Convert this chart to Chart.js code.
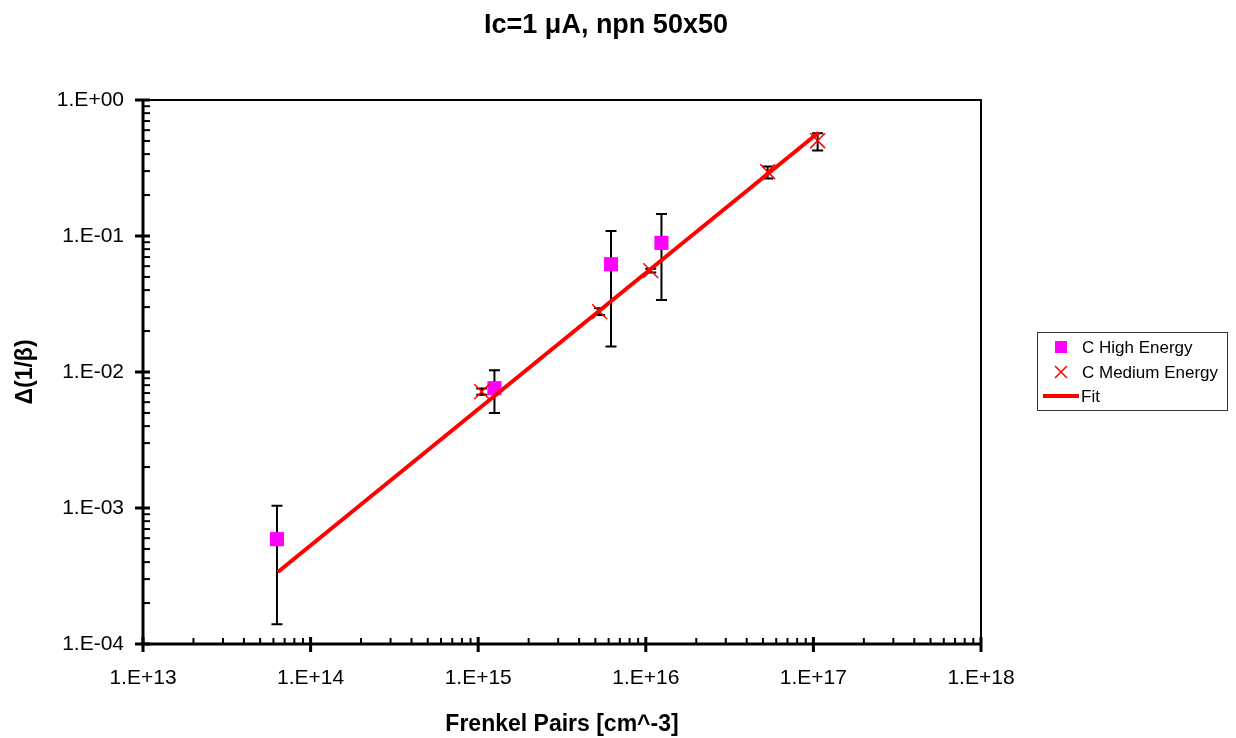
<!DOCTYPE html>
<html>
<head>
<meta charset="utf-8">
<title>Ic=1 µA, npn 50x50</title>
<script src="https://cdn.jsdelivr.net/npm/chart.js@4/dist/chart.umd.min.js"></script>
<style>
  html, body { margin: 0; padding: 0; background: #fff; }
  #wrap { width: 1236px; height: 738px; position: relative; }
</style>
</head>
<body>
<div id="wrap"><canvas id="chart-frenkel"></canvas></div>
<script>
/* Δ(1/β) versus Frenkel pair density, log-log */

const FONT = "'Liberation Sans', Arial, sans-serif";
const TITLE = 'Ic=1 \u03BCA, npn 50x50';

// C High Energy
const highX   = [6.3e13, 1.25e15, 6.2e15, 1.24e16];
const highY   = [5.9e-4, 7.6e-3, 0.062, 0.089];
const highErrHi = [1.04e-3, 1.03e-2, 0.109, 0.145];
const highErrLo = [1.40e-4, 5.0e-3, 0.0154, 0.0338];

// C Medium Energy
const medX   = [1.05e15, 5.3e15, 1.07e16, 5.33e16, 1.06e17];
const medY   = [7.17e-3, 0.0278, 0.0556, 0.297, 0.502];
const medErrHi = [7.55e-3, 0.0294, 0.0575, 0.324, 0.569];
const medErrLo = [6.8e-3, 0.0263, 0.0538, 0.265, 0.425];

// Fit line end points
const fitX = [6.38e13, 1.07e17];
const fitY = [3.38e-4, 0.575];

// axis decades
const xDecades = [1e13, 1e14, 1e15, 1e16, 1e17, 1e18];
const yDecades = [1e-4, 1e-3, 1e-2, 1e-1, 1e0];

const toPts = (xs, ys) => xs.map((x, i) => ({ x: x, y: ys[i] }));

function sciLabel(v) {
  const e = Math.round(Math.log10(v));
  const s = e < 0 ? '-' : '+';
  return '1.E' + s + String(Math.abs(e)).padStart(2, '0');
}

// error bars, drawn under the markers
const errorBars = {
  id: 'errorBars',
  beforeDatasetsDraw(chart) {
    const ctx = chart.ctx;
    const xs = chart.scales.x, ys = chart.scales.y;
    ctx.save();
    ctx.strokeStyle = '#000';
    ctx.lineWidth = 2;
    chart.data.datasets.forEach((ds) => {
      if (!ds.errHi) return;
      ds.data.forEach((p, i) => {
        const px = xs.getPixelForValue(p.x);
        const top = ys.getPixelForValue(ds.errHi[i]);
        const bot = ys.getPixelForValue(ds.errLo[i]);
        const w = 5.5;
        ctx.beginPath();
        ctx.moveTo(px, top); ctx.lineTo(px, bot);
        ctx.moveTo(px - w, top); ctx.lineTo(px + w, top);
        ctx.moveTo(px - w, bot); ctx.lineTo(px + w, bot);
        ctx.stroke();
      });
    });
    ctx.restore();
  }
};

// title, plot frame, log ticks and boxed legend
const frame = {
  id: 'frame',
  afterDraw(chart) {
    const ctx = chart.ctx;
    const a = chart.chartArea;
    const xs = chart.scales.x, ys = chart.scales.y;
    ctx.save();

    ctx.fillStyle = '#000';
    ctx.font = 'bold 27px ' + FONT;
    ctx.textAlign = 'center';
    ctx.textBaseline = 'middle';
    ctx.fillText(TITLE, 606, 26);
    ctx.textAlign = 'left';

    ctx.strokeStyle = '#000';
    ctx.lineWidth = 2;
    ctx.strokeRect(a.left, a.top, a.right - a.left, a.bottom - a.top);
    ctx.lineWidth = 3;
    ctx.beginPath();
    ctx.moveTo(a.left, a.top); ctx.lineTo(a.left, a.bottom); ctx.lineTo(a.right, a.bottom);
    ctx.stroke();

    // x ticks
    xDecades.forEach((d, i) => {
      const px = xs.getPixelForValue(d);
      ctx.lineWidth = 3;
      ctx.beginPath(); ctx.moveTo(px, a.bottom - 7); ctx.lineTo(px, a.bottom + 8); ctx.stroke();
      if (i === xDecades.length - 1) return;
      ctx.lineWidth = 2;
      for (let k = 2; k <= 9; k++) {
        const mx = xs.getPixelForValue(d * k);
        ctx.beginPath(); ctx.moveTo(mx, a.bottom); ctx.lineTo(mx, a.bottom - 6); ctx.stroke();
      }
    });
    // y ticks
    yDecades.forEach((d, i) => {
      const py = ys.getPixelForValue(d);
      ctx.lineWidth = 3;
      ctx.beginPath(); ctx.moveTo(a.left - 8, py); ctx.lineTo(a.left + 7, py); ctx.stroke();
      if (i === yDecades.length - 1) return;
      ctx.lineWidth = 2;
      for (let k = 2; k <= 9; k++) {
        const my = ys.getPixelForValue(d * k);
        ctx.beginPath(); ctx.moveTo(a.left, my); ctx.lineTo(a.left + 7, my); ctx.stroke();
      }
    });

    // legend
    const box = { x: 1037, y: 332, w: 190, h: 78 };
    ctx.lineWidth = 1;
    ctx.strokeStyle = '#333';
    ctx.strokeRect(box.x + 0.5, box.y + 0.5, box.w, box.h);
    const rows = [347, 372, 396];
    ctx.font = '17px ' + FONT;
    ctx.textBaseline = 'middle';
    chart.data.datasets.forEach((ds, i) => {
      const cy = rows[i];
      const cx = 1061;
      if (ds.pointStyle === 'rect') {
        ctx.fillStyle = ds.backgroundColor;
        ctx.fillRect(cx - 6, cy - 6, 12, 12);
      } else if (ds.pointStyle === 'crossRot') {
        ctx.strokeStyle = ds.borderColor;
        ctx.lineWidth = 1.5;
        ctx.beginPath();
        ctx.moveTo(cx - 6, cy - 6); ctx.lineTo(cx + 6, cy + 6);
        ctx.moveTo(cx + 6, cy - 6); ctx.lineTo(cx - 6, cy + 6);
        ctx.stroke();
      } else {
        ctx.strokeStyle = ds.borderColor;
        ctx.lineWidth = 4;
        ctx.beginPath(); ctx.moveTo(1043, cy); ctx.lineTo(1079, cy); ctx.stroke();
      }
      ctx.fillStyle = '#000';
      ctx.fillText(ds.label, ds.pointStyle ? 1082 : 1081, cy + 1);
    });
    ctx.restore();
  }
};

const ctx = document.getElementById('chart-frenkel');

new Chart(ctx, {
  type: 'scatter',
  data: {
    datasets: [
      {
        label: 'C High Energy',
        data: toPts(highX, highY),
        errHi: highErrHi,
        errLo: highErrLo,
        pointStyle: 'rect',
        pointRadius: 10,
        backgroundColor: '#FF00FF',
        borderColor: '#FF00FF',
        borderWidth: 0,
        order: 2
      },
      {
        label: 'C Medium Energy',
        data: toPts(medX, medY),
        errHi: medErrHi,
        errLo: medErrLo,
        pointStyle: 'crossRot',
        pointRadius: 10.5,
        backgroundColor: '#FF0000',
        borderColor: '#FF0000',
        borderWidth: 1.5,
        order: 1
      },
      {
        label: 'Fit',
        data: toPts(fitX, fitY),
        showLine: true,
        pointRadius: 0,
        borderColor: '#FF0000',
        backgroundColor: '#FF0000',
        borderWidth: 4,
        pointStyle: false,
        order: 0
      }
    ]
  },
  options: {
    responsive: true,
    maintainAspectRatio: false,
    animation: false,
    layout: { padding: { left: 0, right: 255, top: 100, bottom: 0 } },
    plugins: {
      legend: { display: false },
      tooltip: { enabled: false },
      title: { display: false }
    },
    scales: {
      x: {
        type: 'logarithmic',
        min: 1e13,
        max: 1e18,
        afterBuildTicks: (s) => { s.ticks = xDecades.map(v => ({ value: v, major: true })); },
        afterFit: (s) => { s.height = 94; },
        border: { display: false },
        grid: { display: false, drawTicks: false },
        ticks: {
          color: '#000',
          font: { family: FONT, size: 21 },
          padding: 22,
          maxRotation: 0,
          autoSkip: false,
          callback: (v) => sciLabel(v)
        },
        title: {
          display: true,
          text: 'Frenkel Pairs [cm^-3]',
          color: '#000',
          font: { family: FONT, size: 23, weight: 'bold' },
          padding: { top: 0, bottom: 0 }
        }
      },
      y: {
        type: 'logarithmic',
        min: 1e-4,
        max: 1,
        afterBuildTicks: (s) => { s.ticks = yDecades.map(v => ({ value: v, major: true })); },
        afterFit: (s) => { s.width = 143; },
        border: { display: false },
        grid: { display: false, drawTicks: false },
        ticks: {
          color: '#000',
          font: { family: FONT, size: 21 },
          padding: 19,
          autoSkip: false,
          callback: (v) => sciLabel(v)
        },
        title: {
          display: true,
          text: '\u0394(1/\u03B2)',
          color: '#000',
          font: { family: FONT, size: 23, weight: 'bold' },
          padding: { top: 12, bottom: 0 }
        }
      }
    }
  },
  plugins: [errorBars, frame]
});
</script>
</body>
</html>
